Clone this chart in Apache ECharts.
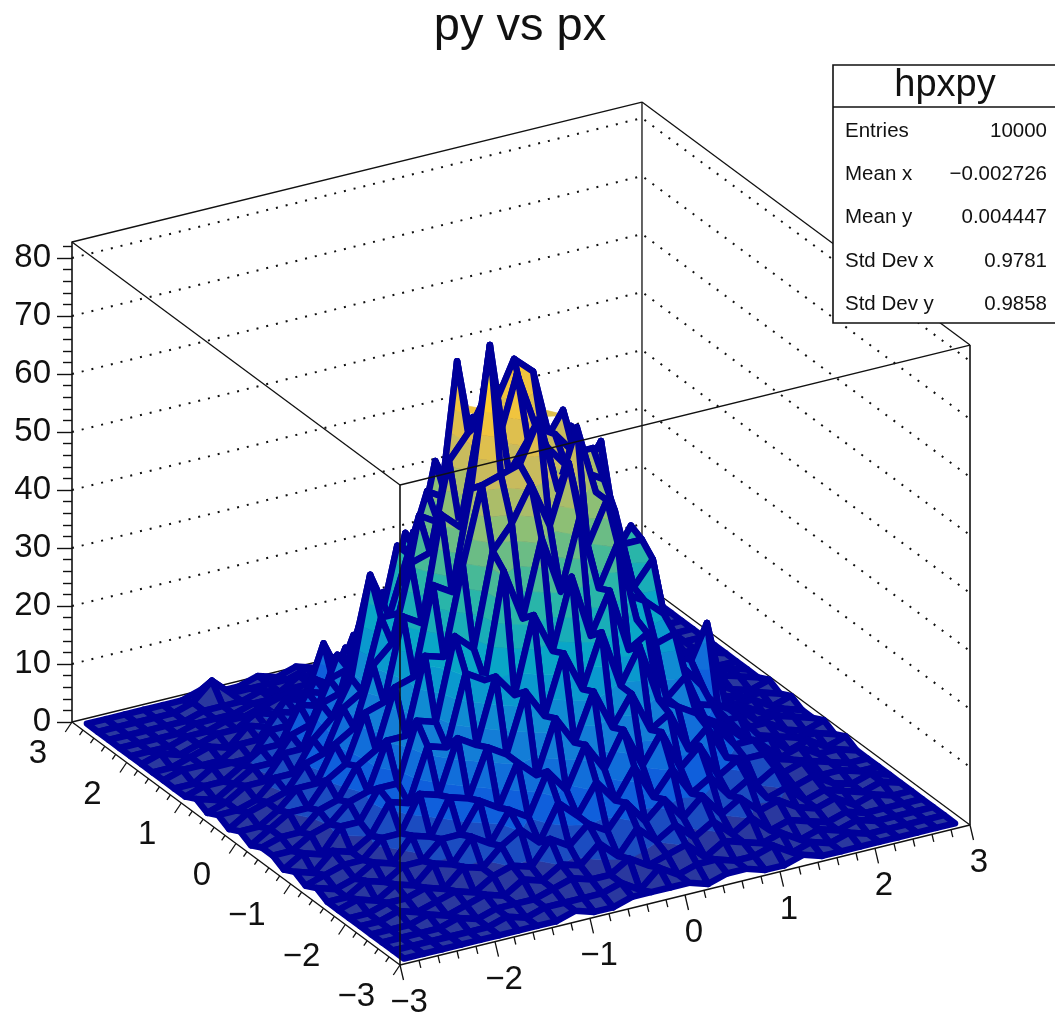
<!DOCTYPE html>
<html><head><meta charset="utf-8">
<style>html,body{margin:0;padding:0;background:#fff}#c{width:1055px;height:1018px}</style>
<script src="https://cdn.jsdelivr.net/npm/echarts@6/dist/echarts.min.js"></script>
</head><body><div id="c"></div>
<script>
// Bin centres (px along columns, py along rows)
const pxCenters=[-2.9,-2.7,-2.5,-2.3,-2.1,-1.9,-1.7,-1.5,-1.3,-1.1,-0.9,-0.7,-0.5,-0.3,-0.1,0.1,0.3,0.5,0.7,0.9,1.1,1.3,1.5,1.7,1.9,2.1,2.3,2.5,2.7,2.9];
const pyCenters=pxCenters.slice();
const counts=[
[0,0,0,0,0,0,0,0,0,1,0,0,1,1,1,1,0,1,1,0,0,1,0,0,0,0,0,0,0,0],
[0,0,0,0,0,0,1,0,1,1,1,1,2,0,3,1,2,2,1,1,2,0,1,0,1,0,0,0,0,0],
[0,0,0,0,1,0,1,1,1,2,3,2,2,4,2,3,4,1,3,2,1,2,0,1,0,1,0,0,0,0],
[0,0,0,1,0,1,2,1,3,2,4,3,6,3,7,4,6,3,5,2,4,1,2,1,0,1,0,0,0,0],
[0,0,1,0,1,2,1,3,4,3,7,5,8,6,10,6,9,5,8,4,6,3,4,2,1,2,0,1,0,0],
[0,0,1,1,2,1,4,3,6,8,5,11,8,13,9,14,8,12,7,9,5,7,3,4,1,2,1,0,1,0],
[0,1,0,2,1,4,3,7,5,10,8,15,11,18,13,19,12,17,10,13,7,9,4,6,2,3,1,0,1,0],
[0,0,2,1,3,3,6,6,11,9,16,13,22,17,25,18,23,16,18,11,14,8,7,7,3,4,1,1,0,0],
[1,0,1,3,2,6,5,11,10,18,16,26,21,31,24,33,23,29,19,17,15,12,8,8,4,3,2,1,0,0],
[0,1,2,2,5,5,11,10,19,17,28,24,37,30,42,31,38,27,29,17,20,12,10,7,5,2,3,1,1,0],
[1,0,3,2,4,9,8,17,16,28,26,44,35,48,38,50,37,44,30,25,26,13,12,8,4,4,1,2,0,1],
[0,2,1,5,5,10,10,20,19,33,30,46,50,56,48,58,43,50,33,31,28,18,14,7,7,3,2,1,1,0],
[1,1,3,4,7,8,16,16,29,28,43,56,57,58,65,52,62,50,46,32,36,19,17,9,7,3,3,1,0,1],
[1,2,2,5,6,11,13,23,24,39,37,54,78,55,60,58,54,52,50,38,38,22,18,10,6,5,2,2,1,0],
[0,2,4,4,8,10,18,19,33,31,49,46,63,59,70,60,58,54,54,34,39,24,16,12,19,4,3,1,1,0],
[1,1,3,6,6,12,14,24,27,40,41,56,60,66,57,62,55,60,48,53,32,27,17,10,9,3,2,2,0,1],
[0,2,3,4,8,9,16,18,30,30,46,44,71,52,62,69,66,52,55,36,36,19,19,9,6,5,2,1,1,0],
[1,1,2,5,5,10,13,19,36,28,38,48,46,56,50,60,48,52,38,38,26,21,12,9,6,3,3,1,0,1],
[0,1,3,3,7,7,14,15,26,24,38,36,51,44,57,45,54,38,42,26,30,15,15,7,5,4,1,2,1,0],
[1,0,2,4,4,8,9,16,17,27,25,38,34,47,38,48,36,41,26,28,20,16,9,8,4,3,2,0,1,0],
[0,1,1,3,5,5,11,10,18,16,26,24,36,29,40,32,38,25,30,17,19,11,11,5,5,2,2,1,0,0],
[0,0,2,2,2,6,6,11,10,17,15,25,20,30,24,31,21,26,15,18,10,12,6,6,3,3,1,1,1,0],
[0,1,1,1,3,3,7,6,11,9,17,13,23,17,24,18,22,13,16,9,11,6,7,3,3,1,2,0,0,0],
[0,0,1,2,1,4,3,7,6,15,8,14,11,18,13,17,12,15,9,11,6,7,3,4,1,2,0,1,0,0],
[0,1,0,1,2,2,4,3,6,5,8,7,11,9,13,9,12,7,9,5,6,3,4,1,2,1,0,0,0,0],
[0,0,0,1,1,2,2,3,4,3,6,4,8,6,9,6,7,4,5,3,3,2,2,1,0,1,0,0,0,0],
[0,0,0,0,1,1,1,2,2,3,3,4,3,6,4,6,3,4,2,3,1,2,1,0,1,0,0,0,0,0],
[0,0,0,0,0,1,1,1,2,1,3,2,3,2,4,2,3,1,2,1,1,1,0,1,0,0,0,0,0,0],
[0,0,0,0,0,1,4,1,1,1,1,2,1,2,2,2,1,2,1,1,0,1,0,0,0,0,0,0,0,0],
[0,0,0,0,0,0,1,0,0,1,0,1,0,1,1,0,1,0,1,0,0,0,0,1,0,0,0,0,0,0]
];
const zTicks=[0,10,20,30,40,50,60,70,80];
const zGridLines=[10,20,30,40,50,60,70,80];
const pxTickLabels=['\u22123','\u22122','\u22121','0','1','2','3'];
const pyTickLabels=['\u22123','\u22122','\u22121','0','1','2','3'];
const axisMajor=[-3,-2,-1,0,1,2,3];
const axisMinor=[-2.8,-2.6,-2.4,-2.2,-1.8,-1.6,-1.4,-1.2,-0.8,-0.6,-0.4,-0.2,0.2,0.4,0.6,0.8,1.2,1.4,1.6,1.8,2.2,2.4,2.6,2.8];
const statLabels=['Entries','Mean x','Mean y','Std Dev x','Std Dev y'];
const statValues=['10000','\u22120.002726','0.004447','0.9781','0.9858'];

const FONT='"Liberation Sans",Arial,sans-serif';
const Z_TOP=82.76, Z_MAX=78.8, LEVELS=20;
const bird=[[53,42,135],[15,92,221],[20,129,214],[6,164,202],[46,183,164],[135,191,119],[209,187,89],[254,200,50],[249,251,14]];
function levelColor(l){
  const t=Math.min(1,(l+0.7)/LEVELS)*(bird.length-1), i=Math.min(bird.length-2,Math.floor(t)), f=t-i;
  const c=bird[i].map((v,k)=>Math.round(v+(bird[i+1][k]-v)*f));
  return 'rgb('+c.join(',')+')';
}
// Oblique 3D view expressed in the grid's own axis units (u: 0..1 across, v: z-axis units)
function project(api,px,py,z){
  const a=px+3,b=py+3;
  const u=(328+95*a-54.67*b)/898;
  const v=z+(-243+23.33*a+40.5*b)/5.8;
  return api.coord([u,v]);
}
function clipZ(poly,lim,keepAbove){
  const out=[];
  for(let i=0;i<poly.length;i++){
    const p=poly[i],q=poly[(i+1)%poly.length];
    const pIn=keepAbove?p[2]>=lim:p[2]<=lim, qIn=keepAbove?q[2]>=lim:q[2]<=lim;
    if(pIn)out.push(p);
    if(pIn!==qIn){const t=(lim-p[2])/(q[2]-p[2]);out.push([p[0]+(q[0]-p[0])*t,p[1]+(q[1]-p[1])*t,lim]);}
  }
  return out;
}
// Cells, painted from the far corner to the near corner
const cells=[];
for(let j=pyCenters.length-2;j>=0;j--)for(let i=pxCenters.length-2;i>=0;i--){
  cells.push([pxCenters[i],pyCenters[j],pxCenters[i+1],pyCenters[j+1],counts[j][i],counts[j][i+1],counts[j+1][i+1],counts[j+1][i]]);
}
function renderCell(params,api){
  const x0=api.value(0),y0=api.value(1),x1=api.value(2),y1=api.value(3);
  const quad=[[x0,y0,api.value(4)],[x1,y0,api.value(5)],[x1,y1,api.value(6)],[x0,y1,api.value(7)]];
  const zs=quad.map(p=>p[2]),lo=Math.min(...zs),hi=Math.max(...zs),dz=Z_MAX/LEVELS;
  const children=[];
  const first=Math.floor(lo/dz),last=Math.min(LEVELS-1,Math.floor(hi/dz));
  for(let l=first;l<=last;l++){
    let poly=clipZ(quad,l*dz,true);
    if(l<LEVELS-1&&poly.length)poly=clipZ(poly,(l+1)*dz,false);
    if(poly.length<3)continue;
    const c=levelColor(l);
    children.push({type:'polygon',shape:{points:poly.map(p=>project(api,p[0],p[1],p[2]))},style:{fill:c,stroke:c,lineWidth:0.6}});
  }
  children.push({type:'polygon',shape:{points:quad.map(p=>project(api,p[0],p[1],p[2]))},style:{fill:'none',stroke:'#00009a',lineWidth:6.5,lineJoin:'round'}});
  return {type:'group',children};
}
function seg(a,b,w,extra){return Object.assign({type:'line',shape:{x1:a[0],y1:a[1],x2:b[0],y2:b[1]},style:{stroke:'#111',lineWidth:w,fill:null}},extra||{});}
function renderDotted(params,api){
  const z=api.value(0);
  return {type:'polyline',shape:{points:[project(api,-3,3,z),project(api,3,3,z),project(api,3,-3,z)]},
    style:{fill:'none',stroke:'#111',lineWidth:2,lineDash:[2,8]}};
}
function renderBackFrame(params,api){
  const t=Z_TOP;
  return {type:'group',children:[
    seg(project(api,-3,3,0),project(api,3,3,0),1.3),
    seg(project(api,3,3,0),project(api,3,-3,0),1.3),
    seg(project(api,3,3,0),project(api,3,3,t),1.3),
    seg(project(api,-3,3,t),project(api,3,3,t),1.3),
    seg(project(api,3,3,t),project(api,3,-3,t),1.3)
  ]};
}
function renderFrontFrame(params,api){
  const t=Z_TOP;
  return {type:'group',children:[
    seg(project(api,-3,-3,t),project(api,3,-3,t),1.3),
    seg(project(api,-3,-3,t),project(api,-3,3,t),1.3),
    seg(project(api,-3,-3,0),project(api,-3,-3,t),1.6),
    seg(project(api,3,-3,0),project(api,3,-3,t),1.6),
    seg(project(api,-3,-3,0),project(api,3,-3,0),1.4),
    seg(project(api,-3,-3,0),project(api,-3,3,0),1.4)
  ]};
}
function renderTick(params,api){
  const v=api.value(0),major=api.value(1),isPx=api.value(2);
  const p=isPx?project(api,v,-3,0):project(api,-3,v,0);
  const d=isPx?(major?[3.5,15]:[1.8,7.5]):(major?[-6.7,10]:[-3.4,5]);
  return seg(p,[p[0]+d[0],p[1]+d[1]],1.3);
}
function renderTickLabel(params,api){
  const v=api.value(0),isPx=api.value(1),txt=(isPx?pxTickLabels:pyTickLabels)[axisMajor.indexOf(v)];
  const p=isPx?project(api,v,-3,0):project(api,-3,v,0);
  return {type:'text',style:{text:txt,x:p[0]+(isPx?9:-25),y:p[1]+(isPx?38:32),font:'33px '+FONT,fill:'#111',
    align:isPx?'center':'right',verticalAlign:'middle'}};
}
const ticks=[];
axisMajor.forEach(v=>{ticks.push([v,1,1]);ticks.push([v,1,0]);});
axisMinor.forEach(v=>{ticks.push([v,0,1]);ticks.push([v,0,0]);});
const tickLabels=[];
axisMajor.forEach(v=>{tickLabels.push([v,1]);tickLabels.push([v,0]);});
const common={type:'custom',coordinateSystem:'cartesian2d',silent:true,animation:false,clip:false,progressive:0};
const stats=[{type:'rect',shape:{x:833,y:65,width:224,height:258},style:{fill:'#fff',stroke:'#111',lineWidth:1.6},z:50},
  {type:'line',shape:{x1:833,y1:107,x2:1057,y2:107},style:{stroke:'#111',lineWidth:1.4},z:51},
  {type:'text',style:{text:'hpxpy',x:945,y:86,font:'38px '+FONT,fill:'#111',align:'center',verticalAlign:'middle'},z:51}];
const rowY=[131,174,217,261,304];
statLabels.forEach((s,i)=>{
  stats.push({type:'text',style:{text:s,x:845,y:rowY[i],font:'20.5px '+FONT,fill:'#111',align:'left',verticalAlign:'middle'},z:51});
  stats.push({type:'text',style:{text:statValues[i],x:1047,y:rowY[i],font:'20.5px '+FONT,fill:'#111',align:'right',verticalAlign:'middle'},z:51});
});
const chart=echarts.init(document.getElementById('c'));
chart.setOption({
  animation:false,backgroundColor:'#fff',
  title:{text:'py vs px',left:515,top:22,textAlign:'center',textVerticalAlign:'middle',textStyle:{fontFamily:FONT,fontSize:47,fontWeight:'normal',color:'#111'}},
  grid:{left:72,top:242,width:898,height:480},
  xAxis:{type:'value',min:0,max:1,show:false},
  yAxis:{type:'value',min:0,max:Z_TOP,interval:10,
    axisLine:{show:true,onZero:false,lineStyle:{color:'#111',width:1.6}},
    axisTick:{show:true,length:15,customValues:zTicks,lineStyle:{color:'#111',width:1.4}},
    minorTick:{show:true,splitNumber:5,length:9,lineStyle:{color:'#111',width:1.4}},
    splitLine:{show:false},
    axisLabel:{show:true,customValues:zTicks,margin:21,fontFamily:FONT,fontSize:33,color:'#111'}},
  graphic:{elements:stats},
  series:[
    Object.assign({},common,{name:'grid',data:zGridLines.map(z=>[z]),renderItem:renderDotted,z:1}),
    Object.assign({},common,{name:'backFrame',data:[[0]],renderItem:renderBackFrame,z:2}),
    Object.assign({},common,{name:'surface',data:cells,renderItem:renderCell,z:3,dimensions:['x0','y0','x1','y1','z00','z10','z11','z01'],encode:{x:0,y:1}}),
    Object.assign({},common,{name:'frontFrame',data:[[0]],renderItem:renderFrontFrame,z:4}),
    Object.assign({},common,{name:'ticks',data:ticks,renderItem:renderTick,z:4}),
    Object.assign({},common,{name:'tickLabels',data:tickLabels,renderItem:renderTickLabel,z:4})
  ]
});
</script></body></html>
